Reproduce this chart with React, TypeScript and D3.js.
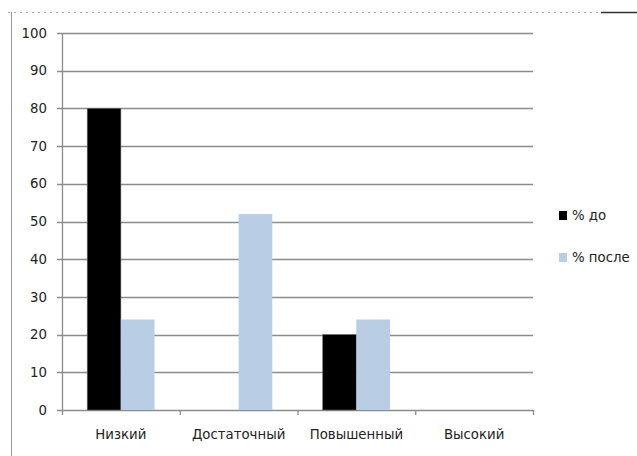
import React from "react";
import * as d3 from "d3";

const categories = ["Низкий", "Достаточный", "Повышенный", "Высокий"];
const seriesNames = ["% до", "% после"];
const before = [80, 0, 20, 0];
const after = [24, 52, 24, 0];
const yTicks = [0, 10, 20, 30, 40, 50, 60, 70, 80, 90, 100];

const W = 637;
const H = 456;
const colors = ["#000000", "#B9CDE5"];
const font = "'DejaVu Sans', Verdana, sans-serif";
const fs = 13.3;

export default function App() {
  const x0 = d3.scaleBand<string>().domain(categories).range([62, 533]).paddingInner(0).paddingOuter(0);
  const y = d3.scaleLinear().domain([0, 100]).range([410, 33]);
  const x1 = d3
    .scaleBand<string>()
    .domain(seriesNames)
    .range([0, x0.bandwidth()])
    .paddingInner(0)
    .paddingOuter(0.75);
  const series = [before, after];

  return (
    <svg
      width={W}
      height={H}
      style={{ position: "absolute", left: 0, top: 0, background: "#fff" }}
      fontFamily={font}
    >
      {/* frame remnants */}
      <line x1={8} x2={600} y1={12.5} y2={12.5} stroke="#aaa" strokeDasharray="2,4" />
      <line x1={601} x2={637} y1={12.5} y2={12.5} stroke="#333" strokeWidth={1.5} />
      <line x1={11.5} x2={11.5} y1={12} y2={H} stroke="#999" />

      {/* gridlines and y ticks */}
      {yTicks.map((t) => (
        <g key={t}>
          <line x1={57} x2={533} y1={Math.round(y(t)) + 0.5} y2={Math.round(y(t)) + 0.5} stroke="#8c8c8c" strokeWidth={1.3} />
          <text x={47} y={y(t)} dy="0.35em" textAnchor="end" fontSize={fs} fill="#222">
            {t}
          </text>
        </g>
      ))}
      <line x1={62.5} x2={62.5} y1={y(100)} y2={y(0)} stroke="#8c8c8c" strokeWidth={1.3} />

      {/* category ticks */}
      {[...categories.map((c) => x0(c) as number), 533].map((xv, i) => (
        <line key={i} x1={xv + 0.5} x2={xv + 0.5} y1={y(0)} y2={y(0) + 5} stroke="#8c8c8c" strokeWidth={1.3} />
      ))}

      {/* bars */}
      {series.map((vals, si) =>
        categories.map((c, ci) => {
          const v = vals[ci];
          if (v <= 0) return null;
          const bx = (x0(c) as number) + (x1(seriesNames[si]) as number);
          return (
            <rect
              key={`${si}-${ci}`}
              x={bx}
              y={y(v)}
              width={x1.bandwidth()}
              height={y(0) - y(v)}
              fill={colors[si]}
              stroke={si === 0 ? "#666" : "none"}
              strokeWidth={0.6}
            />
          );
        })
      )}

      {/* category labels */}
      {categories.map((c) => (
        <text
          key={c}
          x={(x0(c) as number) + x0.bandwidth() / 2}
          y={439}
          textAnchor="middle"
          fontSize={fs}
          fill="#222"
        >
          {c}
        </text>
      ))}

      {/* legend */}
      {seriesNames.map((s, i) => (
        <g key={s} transform={`translate(559, ${211 + i * 42})`}>
          <rect x={0} y={0} width={8} height={9} fill={colors[i]} />
          <text x={13} y={4.5} dy="0.35em" fontSize={fs} fill="#222">
            {s}
          </text>
        </g>
      ))}
    </svg>
  );
}
